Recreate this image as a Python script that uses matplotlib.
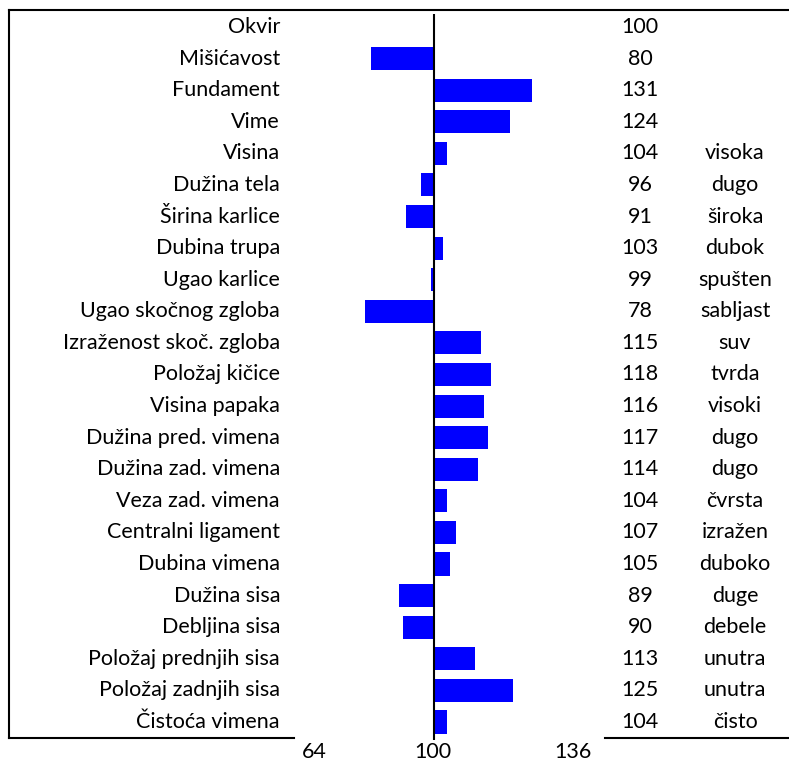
import matplotlib
matplotlib.use('Agg')
import matplotlib.pyplot as plt
import matplotlib.transforms as mtransforms
from matplotlib.lines import Line2D

# traits, index values and descriptions
traits = ['Okvir', 'Mišićavost', 'Fundament', 'Vime', 'Visina', 'Dužina tela',
          'Širina karlice', 'Dubina trupa', 'Ugao karlice', 'Ugao skočnog zgloba',
          'Izraženost skoč. zgloba', 'Položaj kičice', 'Visina papaka',
          'Dužina pred. vimena', 'Dužina zad. vimena', 'Veza zad. vimena',
          'Centralni ligament', 'Dubina vimena', 'Dužina sisa', 'Debljina sisa',
          'Položaj prednjih sisa', 'Položaj zadnjih sisa', 'Čistoća vimena']
values = [100, 80, 131, 124, 104, 96, 91, 103, 99, 78, 115, 118, 116, 117,
          114, 104, 107, 105, 89, 90, 113, 125, 104]
descr = ['', '', '', '', 'visoka', 'dugo', 'široka', 'dubok', 'spušten',
         'sabljast', 'suv', 'tvrda', 'visoki', 'dugo', 'dugo', 'čvrsta',
         'izražen', 'duboko', 'duge', 'debele', 'unutra', 'unutra', 'čisto']
axis_labels = ['64', '100', '136']

W, H = 789, 765
fig = plt.figure(figsize=(W / 100, H / 100), dpi=100)
ax = fig.add_axes([0, 0, 1, 1])
ax.axis('off')

# pixel layout: 100 sits at x=434, 3.15 px per unit; rows 31.6 px apart from y=27
px_unit = 3.15
row0, pitch = 27, 31.59
ax.set_xlim(100 - 434 / px_unit, 100 + (W - 434) / px_unit)
ax.set_ylim((H - row0) / pitch, -row0 / pitch)

ys = list(range(len(traits)))
ax.barh(ys, [v - 100 for v in values], left=100, height=0.73, color='#0000FF')
ax.vlines(100, (14 - row0) / pitch, (740 - row0) / pitch, color='black', lw=1.5)

font = 'Lato'
fs = 15.5
tr = mtransforms.blended_transform_factory(fig.transFigure, ax.transData)
for i in ys:
    fig.text(280 / W, i, traits[i], transform=tr, ha='right', va='center',
             fontsize=fs, family=font)
    fig.text(640 / W, i, str(values[i]), transform=tr, ha='center', va='center',
             fontsize=fs, family=font)
    if descr[i]:
        fig.text(735 / W, i, descr[i], transform=tr, ha='center', va='center',
                 fontsize=fs, family=font)

for lab, xp in zip(axis_labels, [314, 433, 573]):
    fig.text(xp / W, 1 - 752 / H, lab, ha='center', va='center', fontsize=fs, family=font)

# frame lines
lw = 1.5
fig.add_artist(Line2D([9 / W, 1], [1 - 10 / H] * 2, color='black', lw=lw))
fig.add_artist(Line2D([9 / W] * 2, [1 - 10 / H, 1 - 738 / H], color='black', lw=lw))
fig.add_artist(Line2D([9 / W, 294 / W], [1 - 738 / H] * 2, color='black', lw=lw))
fig.add_artist(Line2D([605 / W, 1], [1 - 738 / H] * 2, color='black', lw=lw))

fig.savefig('out.png', dpi=100)
